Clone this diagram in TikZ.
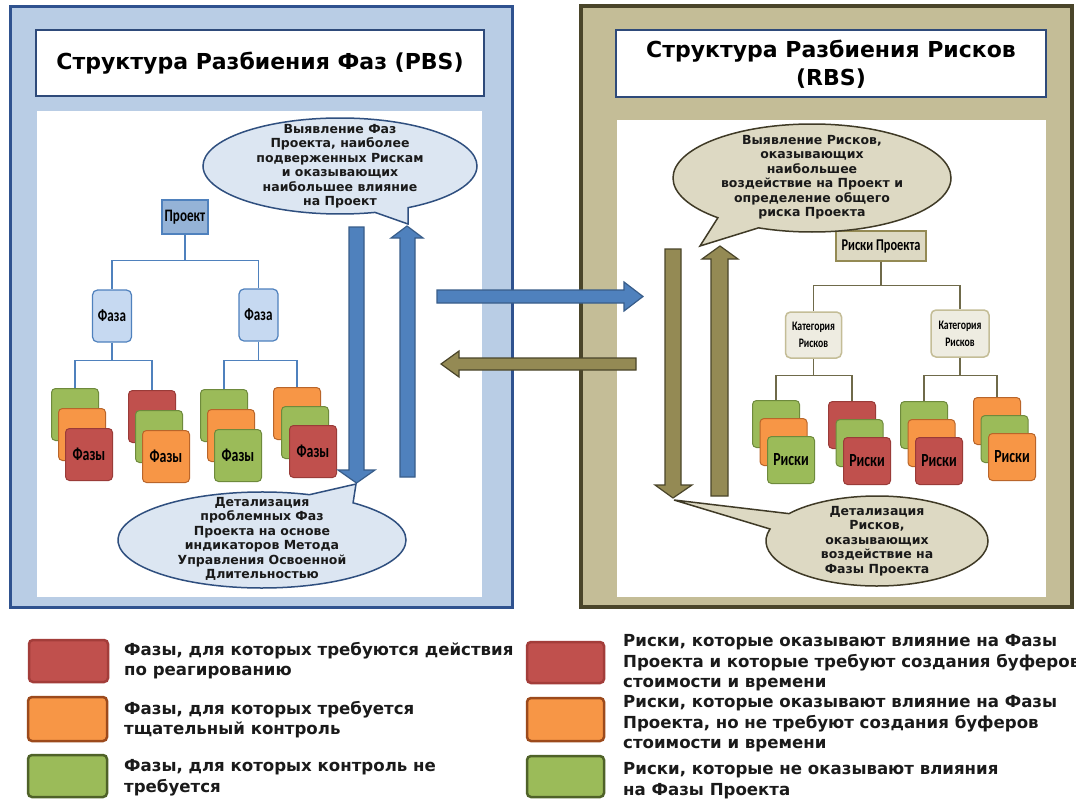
\documentclass[tikz,border=0pt]{standalone}
\usepackage{fontspec}
\setmainfont{DejaVu Sans}
\newfontfamily\cond[FakeStretch=0.75]{Carlito}
\usetikzlibrary{shapes.callouts}
\definecolor{panLf}{HTML}{B9CDE5}
\definecolor{panLd}{HTML}{2F528F}
\definecolor{panRf}{HTML}{C4BD97}
\definecolor{panRd}{HTML}{4A452A}
\definecolor{ttlD}{HTML}{2E4A7A}
\definecolor{arBf}{HTML}{4F81BD}
\definecolor{arBd}{HTML}{385D8A}
\definecolor{arOf}{HTML}{948A54}
\definecolor{arOd}{HTML}{4A452A}
\definecolor{clLf}{HTML}{DCE6F2}
\definecolor{clLd}{HTML}{2F4F7F}
\definecolor{clRf}{HTML}{DDD9C3}
\definecolor{clRd}{HTML}{3F3A26}
\definecolor{rf}{HTML}{C0504D}
\definecolor{rd}{HTML}{9A3B38}
\definecolor{of}{HTML}{F79646}
\definecolor{od}{HTML}{B9652A}
\definecolor{gf}{HTML}{9BBB59}
\definecolor{gd}{HTML}{6E8A3C}
\definecolor{lrd}{HTML}{A33D3A}
\definecolor{lod}{HTML}{9C4A1C}
\definecolor{lgd}{HTML}{4F6228}
\definecolor{txt}{HTML}{1A1A1A}
\definecolor{projF}{HTML}{95B3D7}
\definecolor{fazF}{HTML}{C6D9F1}
\definecolor{rpF}{HTML}{DDD9C3}
\definecolor{rpD}{HTML}{948A54}
\definecolor{catF}{HTML}{EEECE1}
\definecolor{catD}{HTML}{C4BD97}
\definecolor{lineR}{HTML}{6F6A4A}
\newcommand\mystack[8]{%
  \node[#4, fill=#5f, draw=#5d] (#1a) at (#2,#3) {};
  \node[#4, fill=#6f, draw=#6d] (#1b) at (#2+\sdx,#3+\sdy) {};
  \node[#4, fill=#7f, draw=#7d] (#1c) at (#2+2*\sdx,#3+2*\sdy) {#8};
}
\begin{document}
\begin{tikzpicture}[x=1pt,y=-1pt,
  ttl/.style={font=\bfseries\fontsize{22}{28}\selectfont, align=center, text=black},
  calltxt/.style={font=\bfseries\fontsize{12.5}{14.5}\selectfont, align=center, text=txt},
  callL/.style={ellipse callout, fill=clLf, draw=clLd, line width=1.5, inner sep=0},
  callR/.style={ellipse callout, fill=clRf, draw=clRd, line width=1.5, inner sep=0},
  pcard/.style={rounded corners=4, line width=1, minimum width=47, minimum height=52, anchor=north west, inner sep=0, font=\cond\bfseries\fontsize{18.5}{18.5}\selectfont, text=black},
  rcard/.style={rounded corners=4, line width=1, minimum width=47, minimum height=47, anchor=north west, inner sep=0, font=\cond\bfseries\fontsize{18.5}{18.5}\selectfont, text=black},
  lineL/.style={draw=arBf, line width=1.6},
  lineRR/.style={draw=lineR, line width=1.4},
  arB/.style={fill=arBf, draw=arBd, line width=1.2, line join=miter},
  arO/.style={fill=arOf, draw=arOd, line width=1.2, line join=miter},
  swatch/.style={rounded corners=4, line width=2.5},
  legtxt/.style={font=\bfseries\fontsize{16.6}{20.5}\selectfont, align=left, anchor=west, text=txt, inner sep=0}
]
\useasboundingbox (0,0) rectangle (1076,798);
\fill[white] (0,0) rectangle (1076,798);
% ---------- left panel ----------
\draw[fill=panLf, draw=panLd, line width=3] (10,6) rectangle (512,607);
\draw[fill=white, draw=ttlD, line width=2.5] (36,30) rectangle (484,96);
\fill[white] (37,111) rectangle (482,597);
\node[ttl] (tL) at (260,63) {Структура Разбиения Фаз (PBS)};
% ---------- right panel ----------
\draw[fill=panRf, draw=panRd, line width=3.5] (581,6) rectangle (1072,607);
\draw[fill=white, draw=ttlD, line width=2.5] (616,30) rectangle (1046,97);
\fill[white] (617,120) rectangle (1046,597);
\node[ttl] (tR) at (831,64) {Структура Разбиения Рисков\\(RBS)};
% ---------- left tree ----------
\node[fill=projF, draw=arBf, line width=1.2, minimum width=46, minimum height=34, inner sep=0, font=\cond\bfseries\fontsize{17.5}{17.5}\selectfont] (proj) at (185,217) {Проект};
\node[fill=fazF, draw=arBf, line width=1.2, rounded corners=5, minimum width=39, minimum height=52, inner sep=0, font=\cond\bfseries\fontsize{17.5}{17.5}\selectfont] (fa1) at (112,316) {Фаза};
\node[fill=fazF, draw=arBf, line width=1.2, rounded corners=5, minimum width=39, minimum height=52, inner sep=0, font=\cond\bfseries\fontsize{17.5}{17.5}\selectfont] (fa2) at (258.5,315) {Фаза};
\def\sdx{7}\def\sdy{20}
\mystack{s1}{51}{388}{pcard}{g}{o}{r}{Фазы}
\mystack{s2}{128}{390}{pcard}{r}{g}{o}{Фазы}
\mystack{s3}{200}{389}{pcard}{g}{o}{g}{Фазы}
\def\sdx{8}\def\sdy{19}
\mystack{s4}{273}{387}{pcard}{o}{g}{r}{Фазы}
\draw[lineL] (proj.south) -- ++(0,26) -| (fa1.north);
\draw[lineL] (proj.south) -- ++(0,26) -| (fa2.north);
\draw[lineL] (fa1.south) -- ++(0,18) -| (s1a.north);
\draw[lineL] (fa1.south) -- ++(0,18) -| (s2a.north);
\draw[lineL] (fa2.south) -- ++(0,19) -| (s3a.north);
\draw[lineL] (fa2.south) -- ++(0,19) -| (s4a.north);
% left vertical arrows
\filldraw[arB] (349,227) -- (364,227) -- (364,470) -- (375,470) -- (356.5,483) -- (338,470) -- (349,470) -- cycle;
\filldraw[arB] (400,477) -- (400,238) -- (391,238) -- (407,226) -- (423,238) -- (415,238) -- (415,477) -- cycle;
% left callouts
\node[callL, minimum width=274, minimum height=96, callout absolute pointer={(408,224)}] (cL1) at (340,166) {};
\node[calltxt] (cL1t) at (340,166) {Выявление Фаз\\Проекта, наиболее\\подверженных Рискам\\и оказывающих\\наибольшее влияние\\на Проект};
\node[callL, minimum width=288, minimum height=96, callout pointer arc=20, callout absolute pointer={(356,484)}] (cL2) at (262,540) {};
\node[calltxt] (cL2t) at (262,539) {Детализация\\проблемных Фаз\\Проекта на основе\\индикаторов Метода\\Управления Освоенной\\Длительностью};
% ---------- right tree ----------
\node[fill=rpF, draw=rpD, line width=1.2, minimum width=90, minimum height=30, inner sep=0, font=\cond\bfseries\fontsize{16.5}{16.5}\selectfont] (rp) at (881,246) {Риски Проекта};
\node[fill=catF, draw=catD, line width=1.5, rounded corners=5, minimum width=56, minimum height=46, inner sep=0, align=center, font=\cond\bfseries\fontsize{13}{17}\selectfont] (cat1) at (813.5,335) {Категория\\Рисков};
\node[fill=catF, draw=catD, line width=1.5, rounded corners=5, minimum width=58, minimum height=47, inner sep=0, align=center, font=\cond\bfseries\fontsize{13}{17}\selectfont] (cat2) at (960,333.5) {Категория\\Рисков};
\def\sdx{7.5}\def\sdy{18}
\mystack{r1}{752}{400}{rcard}{g}{o}{g}{Риски}
\mystack{r2}{828}{401}{rcard}{r}{g}{r}{Риски}
\mystack{r3}{900}{401}{rcard}{g}{o}{r}{Риски}
\mystack{r4}{973}{397}{rcard}{o}{g}{o}{Риски}
\draw[lineRR] (rp.south) -- ++(0,24) -| (cat1.north);
\draw[lineRR] (rp.south) -- ++(0,24) -| (cat2.north);
\draw[lineRR] (cat1.south) -- ++(0,17) -| (r1a.north);
\draw[lineRR] (cat1.south) -- ++(0,17) -| (r2a.north);
\draw[lineRR] (cat2.south) -- ++(0,18) -| (r3a.north);
\draw[lineRR] (cat2.south) -- ++(0,18) -| (r4a.north);
% right vertical arrows
\filldraw[arO] (665,249) -- (681,249) -- (681,485) -- (692,485) -- (673,498) -- (655,485) -- (665,485) -- cycle;
\filldraw[arO] (711,496) -- (711,259) -- (702,259) -- (720,246) -- (738,259) -- (728,259) -- (728,496) -- cycle;
% right callouts
\node[callR, minimum width=278, minimum height=108, callout pointer arc=20, callout absolute pointer={(700,246)}] (cR1) at (812,178) {};
\node[calltxt] (cR1t) at (812,177) {Выявление Рисков,\\оказывающих\\наибольшее\\воздействие на Проект и\\определение общего\\риска Проекта};
\node[callR, minimum width=222, minimum height=90, callout pointer arc=22, callout absolute pointer={(674,500)}] (cR2) at (877,541) {};
\node[calltxt] (cR2t) at (877,541) {Детализация\\Рисков,\\оказывающих\\воздействие на\\Фазы Проекта};
% ---------- horizontal arrows ----------
\filldraw[arB] (437,290) -- (624,290) -- (624,282) -- (643,296.5) -- (624,311) -- (624,303) -- (437,303) -- cycle;
\filldraw[arO] (636,358) -- (459,358) -- (459,351) -- (441,364) -- (459,377) -- (459,370) -- (636,370) -- cycle;
% ---------- legend ----------
\draw[swatch, fill=rf, draw=lrd] (29,640) rectangle (108,682);
\draw[swatch, fill=of, draw=lod] (28,697) rectangle (107,741);
\draw[swatch, fill=gf, draw=lgd] (28,755) rectangle (107,797);
\node[legtxt] (lg1) at (124,660.5) {Фазы, для которых требуются действия\\по реагированию};
\node[legtxt] (lg2) at (124,719.5) {Фазы, для которых требуется\\тщательный контроль};
\node[legtxt] (lg3) at (124,777.5) {Фазы, для которых контроль не\\требуется};
\draw[swatch, fill=rf, draw=lrd] (527,642) rectangle (604,683);
\draw[swatch, fill=of, draw=lod] (527,698) rectangle (604,741);
\draw[swatch, fill=gf, draw=lgd] (527,756) rectangle (604,797);
\node[legtxt] (lr1) at (623,663) {Риски, которые оказывают влияние на Фазы\\Проекта и которые требуют создания буферов\\стоимости и времени};
\node[legtxt] (lr2) at (623,724) {Риски, которые оказывают влияние на Фазы\\Проекта, но не требуют создания буферов\\стоимости и времени};
\node[legtxt] (lr3) at (623,780.5) {Риски, которые не оказывают влияния\\на Фазы Проекта};
\end{tikzpicture}
\end{document}
